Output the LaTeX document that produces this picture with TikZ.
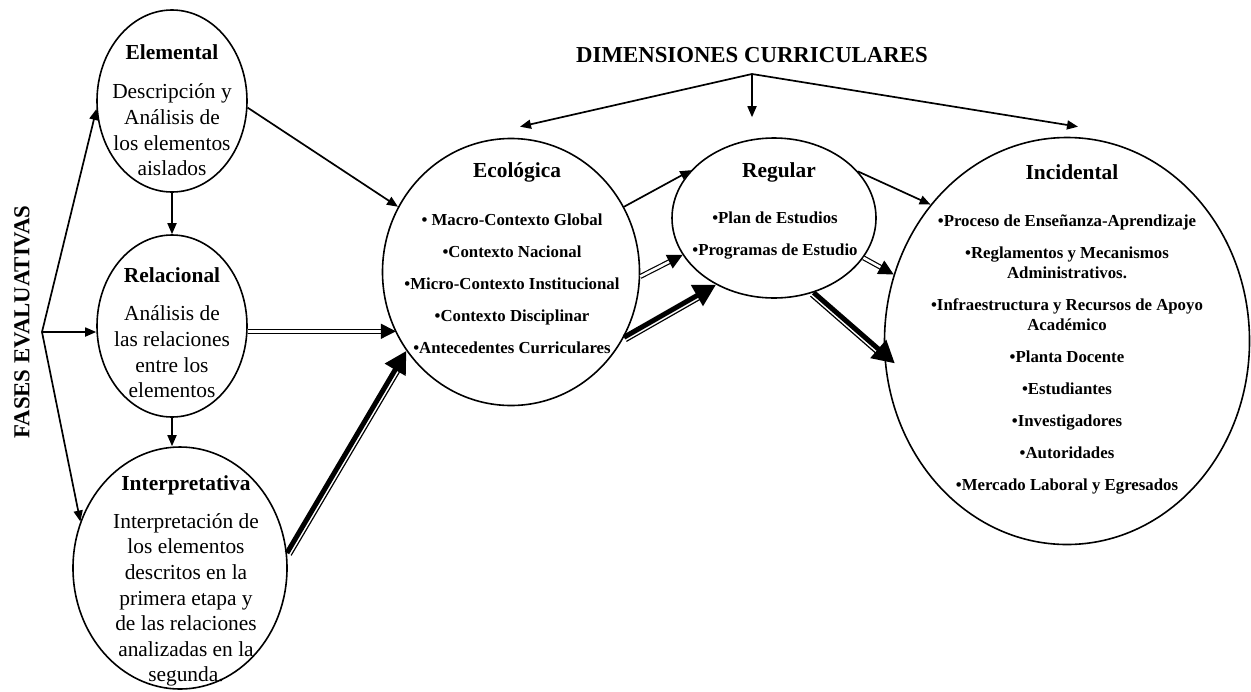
\documentclass[tikz,border=0pt]{standalone}
\usepackage{fontspec}
\setmainfont{Liberation Serif}
\usetikzlibrary{arrows.meta,shapes.geometric,calc}

\begin{document}
\begin{tikzpicture}[x=0.5pt,y=-0.5pt,
  fase/.style={ellipse,draw,line width=.8pt,inner sep=0pt},
  head/.style={font=\fontsize{10.7}{12.8}\selectfont\bfseries},
  body/.style={align=center,font=\fontsize{10.7}{12.8}\selectfont},
  items/.style={align=center,font=\fontsize{8.4}{10}\selectfont\bfseries},
  arr/.style={line width=.85pt,-{Triangle[length=5.5pt,width=4.5pt]}},
  dbl/.style={double,double distance=1.3pt,line width=.6pt,-{Triangle[length=7.5pt,width=7.5pt]}},
  thk/.style={line width=2.5pt,-{Triangle[length=11pt,width=11.5pt]}},
  thn/.style={line width=.6pt,shorten >=10pt}]
  \useasboundingbox (0,0) rectangle (1251,691);

  \node[rotate=90,font=\fontsize{11.4}{13}\selectfont\bfseries] (fases) at (22,322) {FASES EVALUATIVAS};
  \node[font=\fontsize{11.4}{13}\selectfont\bfseries] (dim) at (752,55) {DIMENSIONES CURRICULARES};

  \node[fase,minimum width=75pt,minimum height=91pt] (elem) at (172,101) {};
  \node[fase,minimum width=75pt,minimum height=91pt] (rel) at (172,326) {};
  \node[fase,minimum width=107pt,minimum height=121pt] (int) at (180,568) {};
  \node[fase,minimum width=128.5pt,minimum height=133.5pt] (eco) at (511,272) {};
  \node[fase,minimum width=102pt,minimum height=80pt] (reg) at (774,218) {};
  \node[fase,minimum width=182.5pt,minimum height=203.5pt] (inc) at (1067,341) {};

  \node[head] (elemH) at (172,52) {Elemental};
  \node[body] (elemB) at (172,130) {Descripción y\\Análisis de\\los elementos\\aislados};
  \node[head] (relH) at (172,275) {Relacional};
  \node[body] (relB) at (172,352) {Análisis de\\las relaciones\\entre los\\elementos};
  \node[head] (intH) at (186,485) {Interpretativa};
  \node[body] (intB) at (186,600) {Interpretación de\\los elementos\\descritos en la\\primera etapa y\\de las relaciones\\analizadas en la\\segunda.};

  \node[head] (ecoH) at (517,172) {Ecológica};
  \node[items] (ecoB) at (512,284) {• Macro-Contexto Global\\[6pt]•Contexto Nacional\\[6pt]•Micro-Contexto Institucional\\[6pt]•Contexto Disciplinar\\[6pt]•Antecedentes Curriculares};
  \node[head] (regH) at (779,172) {Regular};
  \node[items] (regB) at (775,236) {•Plan de Estudios\\[6pt]•Programas de Estudio};
  \node[head] (incH) at (1072,172) {Incidental};
  \node[items] (incB) at (1067,354) {•Proceso de Enseñanza-Aprendizaje\\[6pt]•Reglamentos y Mecanismos\\Administrativos.\\[6pt]•Infraestructura y Recursos de Apoyo\\Académico\\[6pt]•Planta Docente\\[6pt]•Estudiantes\\[6pt]•Investigadores\\[6pt]•Autoridades\\[6pt]•Mercado Laboral y Egresados};

  \coordinate (fan) at (42,332);
  \draw[arr] (fan) -- (elem.186);
  \draw[arr] (fan) -- (fan -| rel.west);
  \draw[arr] (fan) -- (int.155);
  \draw[arr] (elem.south) -- (rel.north);
  \draw[arr] (rel.south) -- (rel.south |- int.north);

  \coordinate (split) at (752,74);
  \draw[arr] (split) -- ([shift={(9,-11)}]eco.north);
  \draw[arr] (split) -- ([shift={(-22,-20)}]reg.north);
  \draw[arr] (split) -- ([shift={(11,-10)}]inc.north);

  \draw[arr] (elem.355) -- (eco.150);
  \draw[dbl] (rel.356) -- (rel.356 -| eco.208);
  \draw[thk] (int.8) -- (eco.217);
  \draw[thn] ($(int.8)!2.4pt!-90:(eco.217)$) -- ($(eco.217)!2.4pt!90:(int.8)$);

  \draw[arr] (eco.30) -- (reg.150);
  \draw[dbl] (eco.358) -- (reg.202);
  \draw[thk] (eco.330) -- (reg.229);
  \draw[thn] ($(eco.330)!2.4pt!-90:(reg.229)$) -- ($(reg.229)!2.4pt!90:(eco.330)$);

  \draw[arr] (reg.29) -- (inc.135);
  \draw[dbl] (reg.336) -- (inc.159);
  \draw[thk] (reg.298) -- ([xshift=5pt]inc.187);
  \draw[thn] ($(reg.298)!2.4pt!-90:([xshift=5pt]inc.187)$) -- ($([xshift=5pt]inc.187)!2.4pt!90:(reg.298)$);
\end{tikzpicture}
\end{document}
